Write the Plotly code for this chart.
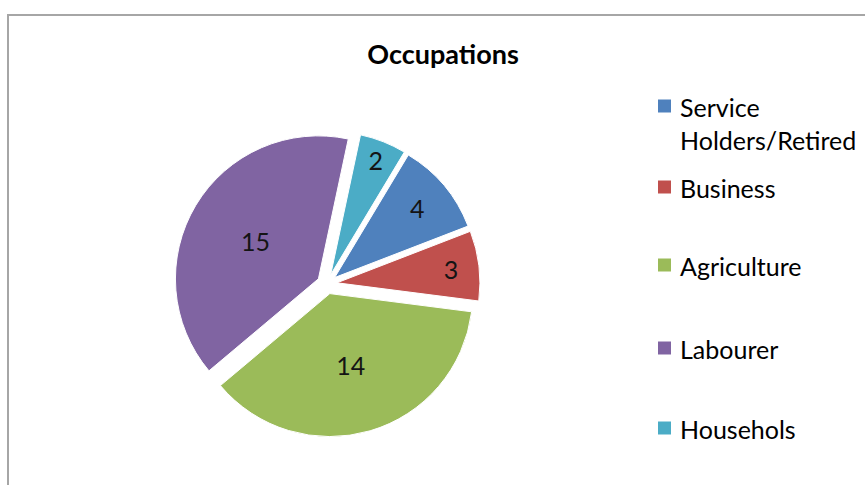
import plotly.graph_objects as go

# ---- data ----
categories = ["Service Holders/Retired", "Business", "Agriculture", "Labourer", "Househols"]
values = [4, 3, 14, 15, 2]
colors = ["#4F81BD", "#C0504D", "#9BBB59", "#8064A2", "#4BACC6"]
title_text = "Occupations"

W, H = 865, 485

def px(x):
    return x / W

def py(y):
    return 1 - y / H

FONT = "Lato"

fig = go.Figure()
fig.add_trace(go.Pie(
    labels=categories,
    values=values,
    marker=dict(colors=colors, line=dict(color="white", width=1)),
    sort=False,
    direction="clockwise",
    rotation=31,
    pull=0.07,
    textinfo="value",
    textposition="inside",
    insidetextorientation="horizontal",
    textfont=dict(family=FONT, size=25, color="#141414"),
    showlegend=False,
    hoverinfo="label+value",
    domain=dict(x=[px(172), px(482)], y=[py(437), py(131)]),
))

shapes = []
annotations = []
# chart border
shapes.append(dict(type="rect", xref="paper", yref="paper",
                   x0=px(8), x1=px(880), y0=py(500), y1=py(15),
                   line=dict(color="#A6A6A6", width=2), fillcolor="rgba(0,0,0,0)"))

# manual legend
square_centers = [106, 187, 265, 348, 428]
for i, (lab, col) in enumerate(zip(categories, colors)):
    yc = square_centers[i]
    shapes.append(dict(type="rect", xref="paper", yref="paper",
                       x0=px(658), x1=px(671), y0=py(yc + 6.5), y1=py(yc - 6.5),
                       line=dict(width=0), fillcolor=col))
    text = lab.replace(" ", "<br>", 1) if lab.startswith("Service") else lab
    annotations.append(dict(text=text, xref="paper", yref="paper",
                            x=px(678), y=py(yc - 16), xanchor="left", yanchor="top",
                            align="left", showarrow=False,
                            font=dict(family=FONT, size=25, color="#000000")))

fig.update_layout(
    width=W, height=H,
    margin=dict(l=0, r=0, t=0, b=0),
    paper_bgcolor="white",
    plot_bgcolor="white",
    title=dict(text="<b>" + title_text + "</b>", x=px(443), y=py(55),
               xanchor="center", yanchor="middle",
               font=dict(family=FONT, size=27, color="#000000")),
    shapes=shapes,
    annotations=annotations,
)

fig.write_html("out.html")
